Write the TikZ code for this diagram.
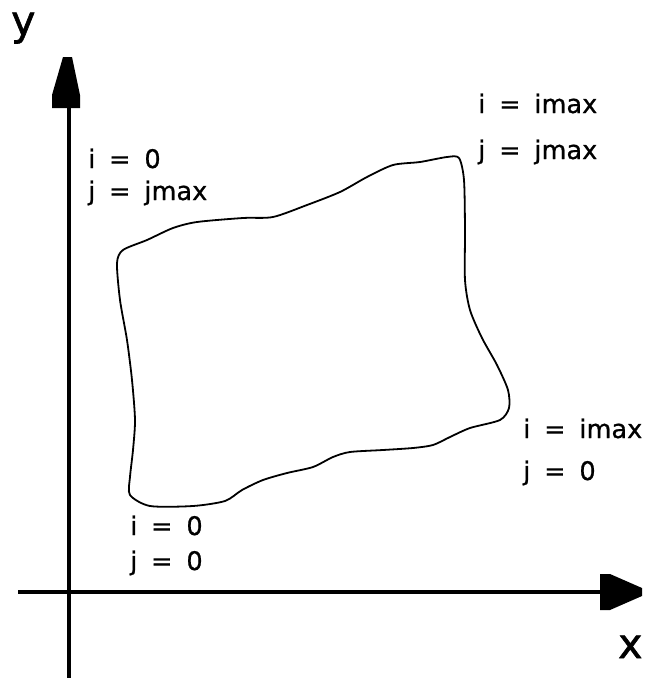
\documentclass[tikz,border=0pt]{standalone}
\usepackage{fontspec}
\setmainfont{DejaVu Sans}
\newfontfamily\labfont[WordSpace=1.7,FakeBold=0.8]{DejaVu Sans}
\newfontfamily\axfont[FakeBold=1.5]{DejaVu Sans}
\tikzset{
  lab/.style={anchor=base west, inner sep=0pt, font=\labfont\fontsize{25.6}{30}\selectfont},
  axlab/.style={anchor=base west, inner sep=0pt, font=\axfont\fontsize{41}{48}\selectfont},
  axis/.style={line width=4pt},
  tip/.style={fill=black},
  boundary/.style={line width=1.8pt, line join=round}
}
\begin{document}
\begin{tikzpicture}[x=1pt,y=-1pt]
\useasboundingbox (0,0) rectangle (649,678);
% axes
\coordinate (yb) at (68.7,678);
\coordinate (yt) at (68.7,100);
\coordinate (xl) at (18,592);
\coordinate (xr) at (605,592);
\draw[axis] (yb) -- (yt);
\draw[axis] (xl) -- (xr);
\fill[tip] (63,57) -- (72,57) -- (80,95) -- (80,108) -- (52,108) -- (52,95) -- cycle;
\fill[tip] (600,574) -- (610,574) -- (642,588) -- (642,596) -- (610,610) -- (600,610) -- cycle;
\node[axlab] (ylab) at (11,35) {y};
\node[axlab] (xlab) at (618,658) {x};
% boundary curve
\draw[boundary] plot[smooth cycle, tension=0.45] coordinates {
 (130,495) (150,506) (193,506) (225,501) (242,490) (263,480) (287,473) (313,467)
 (333,457) (350,452) (383,450) (413,448) (433,445) (450,437) (470,428) (500,420)
 (509,408) (508,390) (497,365) (482,338) (470,310) (465,280) (465,230) (464,180)
 (459,158) (447,157) (420,162) (393,165) (367,177) (340,192) (307,205) (273,217)
 (243,218) (197,222) (173,228) (147,240) (123,250) (117,263) (120,300) (127,340)
 (132,380) (135,420) (133,450) (130,477)};
% labels
\node[lab] (tl1) at (88,168) {i = 0};
\node[lab] (tl2) at (88,200) {j = jmax};
\node[lab] (tr1) at (478,113) {i = imax};
\node[lab] (tr2) at (478,159) {j = jmax};
\node[lab] (br1) at (523,438) {i = imax};
\node[lab] (br2) at (523,480) {j = 0};
\node[lab] (bl1) at (130,535) {i = 0};
\node[lab] (bl2) at (130,570) {j = 0};
\end{tikzpicture}
\end{document}
